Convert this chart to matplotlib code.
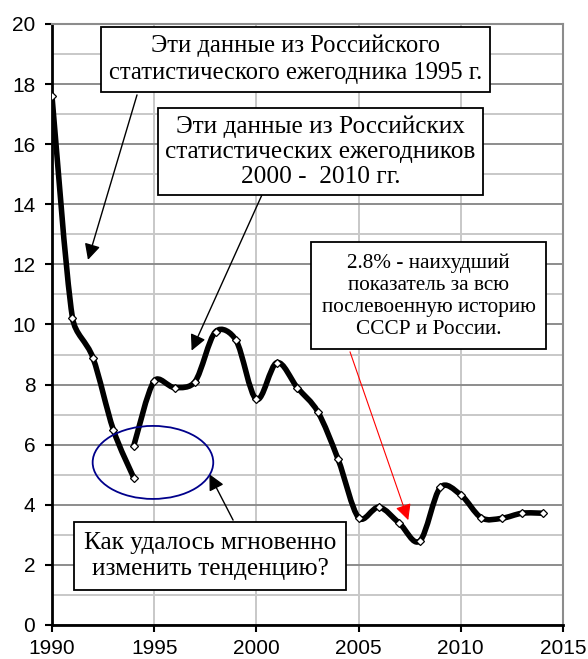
import numpy as np
import matplotlib
matplotlib.use("Agg")
import matplotlib.pyplot as plt
from matplotlib.path import Path
from matplotlib.patches import PathPatch, Ellipse
from matplotlib.ticker import MultipleLocator

# data
years_1995 = [1990, 1991, 1992, 1993, 1994]
rate_1995 = [17.6, 10.23, 8.9, 6.5, 4.9]

years_2010 = [1994, 1995, 1996, 1997, 1998, 1999, 2000, 2001, 2002, 2003, 2004,
              2005, 2006, 2007, 2008, 2009, 2010, 2011, 2012, 2013, 2014]
rate_2010 = [5.96, 8.12, 7.9, 8.1, 9.76, 9.48, 7.51, 8.73, 7.9, 7.1, 5.51,
             3.57, 3.92, 3.38, 2.8, 4.58, 4.33, 3.57, 3.55, 3.72, 3.72]

serif = "Liberation Serif"
sans = "Liberation Sans"


def smooth_path(ax, xs, ys, cap=0.4):
    # smoothed line like Excel: Catmull-Rom Bezier segments in screen space,
    # handles capped so short segments do not overshoot
    pts = ax.transData.transform(np.column_stack([xs, ys]))
    n = len(pts)
    verts = [pts[0]]
    codes = [Path.MOVETO]
    for i in range(n - 1):
        p0 = pts[max(i - 1, 0)]
        p1, p2 = pts[i], pts[i + 1]
        p3 = pts[min(i + 2, n - 1)]
        L = np.hypot(*(p2 - p1))
        h1 = (p2 - p0) / 6
        h2 = (p3 - p1) / 6
        for h in (h1, h2):
            m = np.hypot(*h)
            if m > cap * L:
                h *= cap * L / m
        verts += [p1 + h1, p2 - h2, p2]
        codes += [Path.CURVE4] * 3
    verts = ax.transData.inverted().transform(np.array(verts))
    return Path(verts, codes)


fig = plt.figure(figsize=(5.88, 6.59), dpi=100)
ax = fig.add_axes([0.0884, 0.0516, 0.8691, 0.912])
ax.set_xlim(1990, 2015)
ax.set_ylim(0, 20)

for xs, ys in [(years_1995, rate_1995), (years_2010, rate_2010)]:
    ax.add_patch(PathPatch(smooth_path(ax, xs, ys), fill=False, lw=4, color="black",
                           capstyle="round", joinstyle="round", zorder=3))
    ax.plot(xs, ys, ls="none", marker="D", ms=4.5, mfc="white", mec="black",
            mew=0.9, zorder=4)

ax.xaxis.set_major_locator(MultipleLocator(5))
ax.yaxis.set_major_locator(MultipleLocator(2))
ax.yaxis.set_minor_locator(MultipleLocator(1))
ax.grid(axis="y", which="major", color="#8c8c8c", lw=1.4, zorder=0)
ax.grid(axis="y", which="minor", color="#c8c8c8", lw=1.4, zorder=0)
ax.grid(axis="x", which="major", color="#c8c8c8", lw=1.4, zorder=0)
ax.tick_params(which="major", direction="out", length=5, width=1.5, labelsize=15)
ax.tick_params(axis="x", pad=5)
ax.tick_params(axis="y", pad=7)
ax.tick_params(which="minor", length=0)
for lab in ax.get_xticklabels() + ax.get_yticklabels():
    lab.set_family(sans)
for s in ["left", "bottom"]:
    ax.spines[s].set_linewidth(2)
    ax.spines[s].set_color("black")
for s in ["top", "right"]:
    ax.spines[s].set_linewidth(1.5)
    ax.spines[s].set_color("#8c8c8c")

ax.text(2001.91, 18.82, "Эти данные из Российского\nстатистического ежегодника 1995 г.",
        family=serif, fontsize=17.7, ha="center", va="center",
        bbox=dict(boxstyle="square,pad=0.33", fc="white", ec="black", lw=1.3),
        linespacing=1.3, zorder=6)
ax.text(2003.14, 15.76, "Эти данные из Российских\nстатистических ежегодников\n2000 -  2010 гг.",
        family=serif, fontsize=18.2, ha="center", va="center",
        bbox=dict(boxstyle="square,pad=0.3", fc="white", ec="black", lw=1.3),
        linespacing=1.17, zorder=6)
ax.text(2008.42, 10.95, "2.8% - наихудший\nпоказатель за всю\nпослевоенную историю\nСССР и России.",
        family=serif, fontsize=15.3, ha="center", va="center",
        bbox=dict(boxstyle="square,pad=0.5", fc="white", ec="black", lw=1.3),
        linespacing=1.22, zorder=6)
ax.text(1997.73, 2.30, "Как удалось мгновенно\nизменить тенденцию?",
        family=serif, fontsize=18.3, ha="center", va="center",
        bbox=dict(boxstyle="square,pad=0.4", fc="white", ec="black", lw=1.3),
        linespacing=1.25, zorder=6)

arrow = dict(arrowstyle="-|>", mutation_scale=24, lw=1, color="black",
             shrinkA=0, shrinkB=0)
ax.annotate("", xy=(1991.76, 12.15), xytext=(1994.16, 17.64), arrowprops=arrow, zorder=5)
ax.annotate("", xy=(1996.83, 9.13), xytext=(2000.27, 14.31), arrowprops=arrow, zorder=5)
ax.annotate("", xy=(1997.70, 5.02), xytext=(1998.86, 3.49), arrowprops=arrow, zorder=5)
ax.annotate("", xy=(2007.43, 3.49), xytext=(2004.58, 9.09),
            arrowprops=dict(arrowstyle="-|>", mutation_scale=24, lw=0.8,
                            color="red", shrinkA=0, shrinkB=0), zorder=5)

ax.add_patch(Ellipse((1994.94, 5.41), 5.9, 2.43, fill=False, edgecolor="#00008b",
                     lw=1.3, zorder=5))

fig.savefig("out.png", dpi=100)
